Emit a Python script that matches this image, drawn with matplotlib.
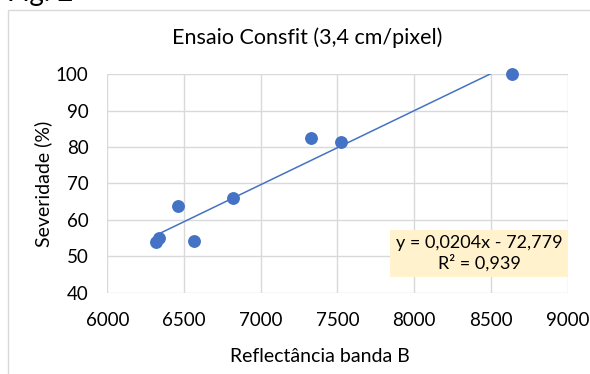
import numpy as np
import matplotlib.pyplot as plt
from matplotlib.patches import Rectangle

# data
reflectancia = [6317, 6339, 6461, 6563, 6822, 7330, 7521, 8636]
severidade = [54.0, 55.1, 63.7, 54.3, 66.0, 82.6, 81.5, 100.0]

x_ticks = [6000, 6500, 7000, 7500, 8000, 8500, 9000]
y_ticks = [40, 50, 60, 70, 80, 90, 100]

eq_text = "y = 0,0204x - 72,779"
r2_text = "R² = 0,939"

plt.rcParams['font.family'] = ['Lato', 'DejaVu Sans']

fig = plt.figure(figsize=(5.9, 3.74), dpi=100)
W, H = 590, 374

# outer chart frame
fig.patches.append(Rectangle((8 / W, -0.1), 1.2, 1.1 - 10 / H,
                             transform=fig.transFigure, fill=False,
                             edgecolor='#d9d9d9', linewidth=1.0))
fig.text(7 / W, 1 - 1 / H, "Fig. 2", fontsize=20, va='baseline', ha='left')

ax = fig.add_axes([107.3 / W, 1 - 292.7 / H, (567.7 - 107.3) / W, (292.7 - 74.3) / H])
ax.set_xlim(6000, 9000)
ax.set_ylim(40, 100)
ax.set_xticks(x_ticks)
ax.set_yticks(y_ticks)
ax.grid(True, color='#d9d9d9', linewidth=1.0)
ax.set_axisbelow(True)
for s in ax.spines.values():
    s.set_visible(False)
ax.tick_params(length=0, labelsize=13.5, colors='#000000')
ax.tick_params(axis='x', pad=14)
ax.tick_params(axis='y', pad=13.5)

# trend line (clipped at the top, like Excel)
coef = np.polyfit(reflectancia, severidade, 1)
xl = np.array([min(reflectancia), max(reflectancia)])
ax.plot(xl, np.polyval(coef, xl), color='#4472c4', linewidth=1.1, zorder=2)

ax.scatter(reflectancia, severidade, s=68, color='#4472c4', zorder=3, clip_on=False)

fig.text(479 / W, 1 - 253.5 / H, eq_text + "\n" + r2_text, fontsize=13,
         ha='center', va='center', linespacing=1.2,
         bbox=dict(boxstyle='square,pad=0.3', facecolor='#fff2cc', edgecolor='none'))

fig.text(307 / W, 1 - 38 / H, "Ensaio Consfit (3,4 cm/pixel)", fontsize=15.5,
         ha='center', va='center')
fig.text(320 / W, 1 - 357 / H, "Reflectância banda B", fontsize=14,
         ha='center', va='center')
fig.text(43 / W, 1 - 184 / H, "Severidade (%)", fontsize=14,
         ha='center', va='center', rotation=90)

fig.savefig("out.png", dpi=100)
